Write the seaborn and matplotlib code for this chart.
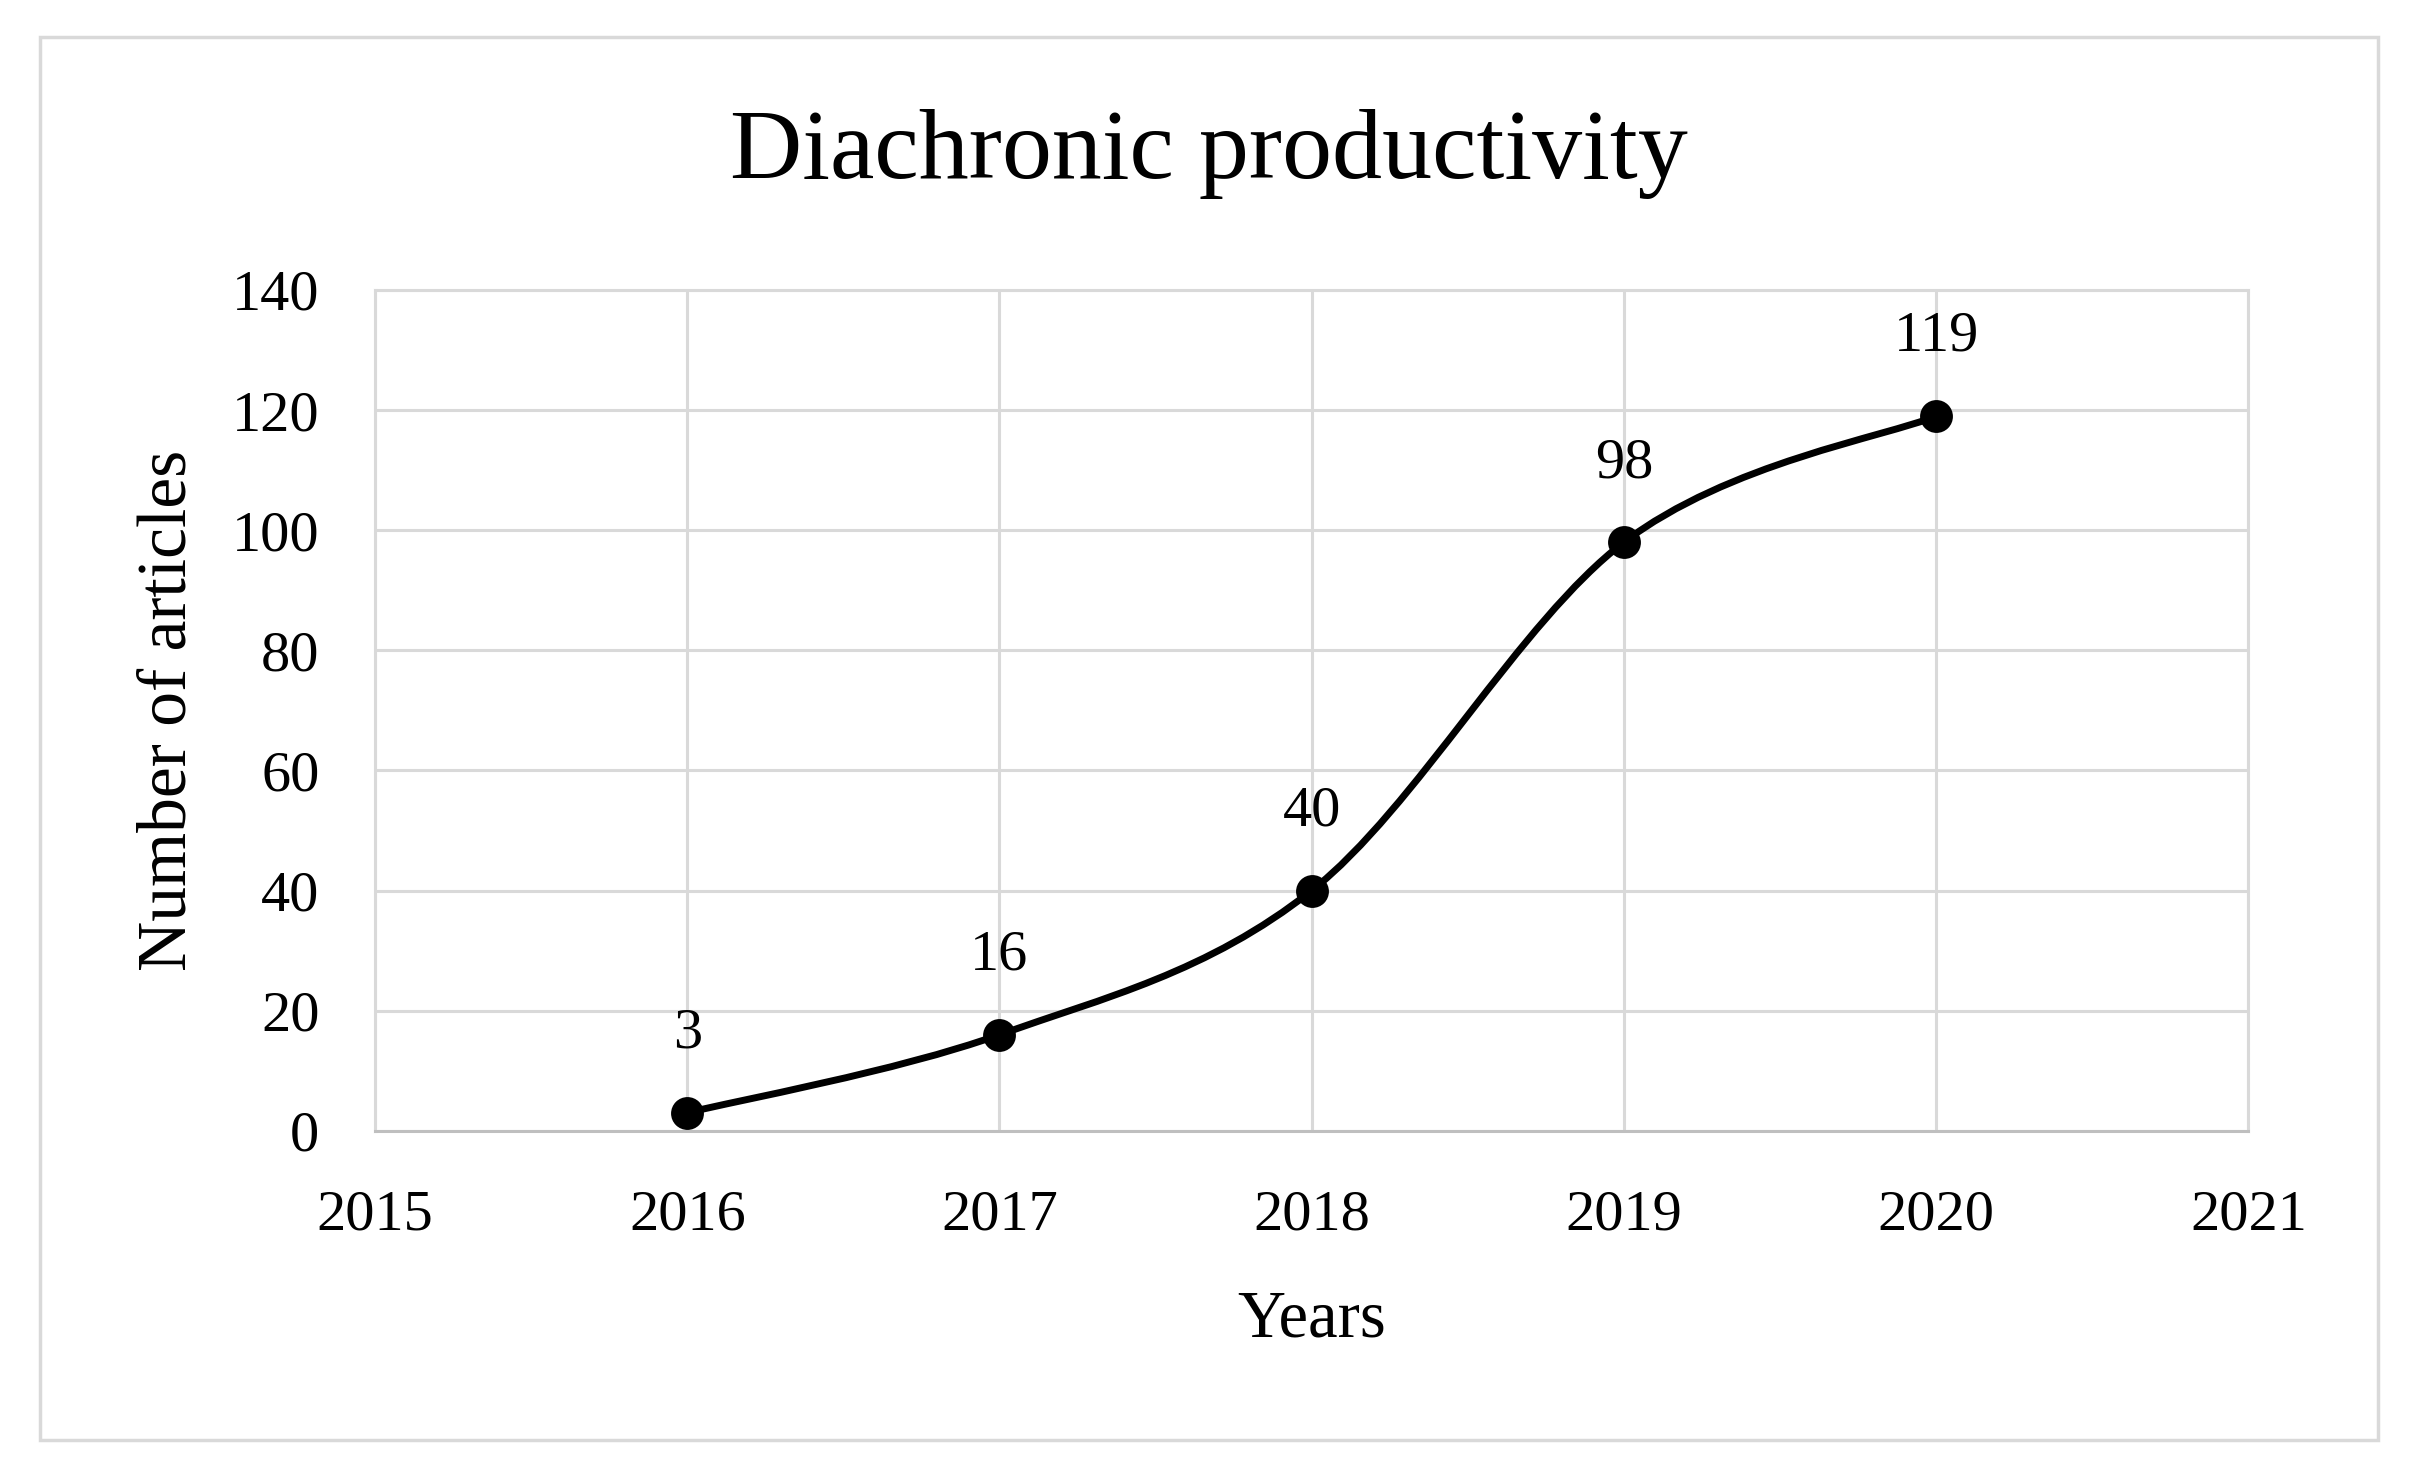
import numpy as np
import pandas as pd
import matplotlib
matplotlib.use("Agg")
import matplotlib.pyplot as plt
import seaborn as sns
from matplotlib.path import Path
from matplotlib.patches import PathPatch, Rectangle

# data
years = [2016, 2017, 2018, 2019, 2020]
articles = [3, 16, 40, 98, 119]
x_ticks = [2015, 2016, 2017, 2018, 2019, 2020, 2021]
y_ticks = [0, 20, 40, 60, 80, 100, 120, 140]

title = "Diachronic productivity"
x_label = "Years"
y_label = "Number of articles"

GRID = "#d9d9d9"


def smooth_path(xs, ys):
    # excel-style smoothed line: catmull-rom segments as cubic beziers
    pts = np.column_stack([xs, ys]).astype(float)
    n = len(pts)
    verts = [pts[0]]
    codes = [Path.MOVETO]
    for i in range(n - 1):
        p_prev = pts[i - 1] if i > 0 else pts[i]
        p_next = pts[i + 2] if i + 2 < n else pts[i + 1]
        c1 = pts[i] + (pts[i + 1] - p_prev) / 6
        c2 = pts[i + 1] - (p_next - pts[i]) / 6
        verts += [c1, c2, pts[i + 1]]
        codes += [Path.CURVE4] * 3
    return Path(verts, codes)


df = pd.DataFrame({"year": years, "articles": articles})

sns.set_theme(style="whitegrid")
plt.rcParams["font.family"] = ["Liberation Serif", "DejaVu Serif"]
plt.rcParams["text.color"] = "black"

fig = plt.figure(figsize=(24.15, 14.84), dpi=100)
ax = fig.add_axes([0.1553, 0.238, 0.9310 - 0.1553, 0.8046 - 0.238])

# outer frame
fig.patches.append(Rectangle((0.0166, 0.0296), 0.9847 - 0.0166, 0.975 - 0.0296,
                             transform=fig.transFigure, fill=False,
                             edgecolor=GRID, linewidth=2.5))

ax.add_patch(PathPatch(smooth_path(df["year"], df["articles"]), fill=False,
                       edgecolor="black", linewidth=5, capstyle="round", zorder=3))
sns.scatterplot(data=df, x="year", y="articles", ax=ax, color="black",
                s=560, edgecolor="black", linewidth=0, zorder=4, legend=False)

for x, y in zip(years, articles):
    ax.annotate(str(y), (x, y), xytext=(0, 57), textcoords="offset points",
                ha="center", va="center", fontsize=42, color="black")

ax.set_xlim(x_ticks[0], x_ticks[-1])
ax.set_ylim(y_ticks[0], y_ticks[-1])
ax.set_xticks(x_ticks)
ax.set_yticks(y_ticks)
ax.set_xticklabels([str(t) for t in x_ticks])
ax.grid(True, color=GRID, linewidth=2.2)
ax.set_facecolor("white")
for side, sp in ax.spines.items():
    sp.set_visible(True)
    sp.set_color(GRID)
    sp.set_linewidth(2.2)
ax.spines["bottom"].set_color("#bfbfbf")
ax.tick_params(axis="both", length=0, labelsize=42, colors="black")
ax.tick_params(axis="x", pad=42)
ax.tick_params(axis="y", pad=40)

ax.set_xlabel("")
ax.set_ylabel("")
fig.text(0.543, 0.1105, x_label, ha="center", va="center", fontsize=48, color="black")
fig.text(0.070, 0.521, y_label, ha="center", va="center", fontsize=50, rotation=90,
         color="black")
fig.text(0.5006, 0.896, title, ha="center", va="center", fontsize=72, color="black")

fig.savefig("out.png", dpi=100, facecolor="white")
